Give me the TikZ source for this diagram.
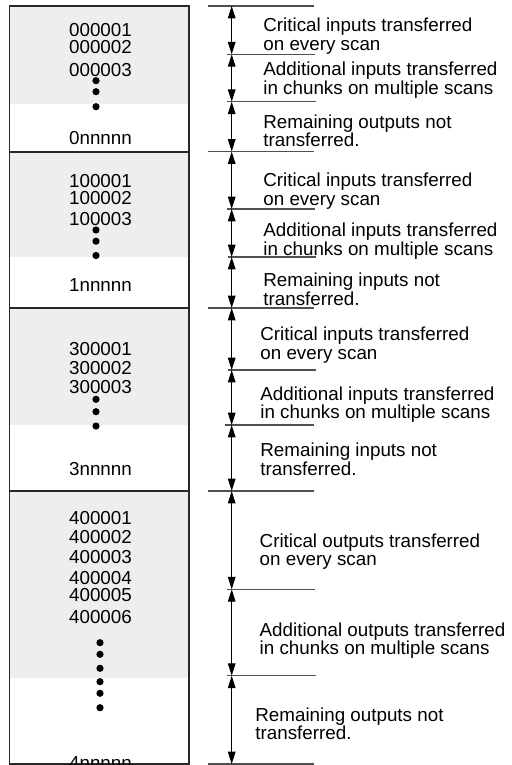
\documentclass[tikz,border=0pt]{standalone}
\usepackage{fontspec}
\setmainfont{Liberation Sans}
\usepackage{tikz}
\usetikzlibrary{arrows.meta}
\definecolor{myframe}{RGB}{40,40,40}
\definecolor{myshade}{RGB}{238,238,238}
\definecolor{mytick}{RGB}{80,80,80}
\tikzset{
  addr/.style={anchor=base, inner sep=0pt,
    font=\fontsize{9.4}{9.2}\selectfont},
  note/.style={anchor=base west, align=left, inner sep=0pt,
    font=\fontsize{9.4}{9.2}\selectfont},
  frame/.style={draw=myframe, line width=0.6pt},
  shade/.style={fill=myshade},
  tickline/.style={color=mytick, line width=0.55pt},
  dimarrow/.style={{Triangle[width=3.8pt,length=6.2pt]}-{Triangle[width=3.8pt,length=6.2pt]},
    line width=0.5pt, color=black},
  listdot/.style={fill=black}
}

\begin{document}
\begin{tikzpicture}[x=0.5pt, y=-0.5pt]
  \useasboundingbox (0,0) rectangle (512,765);

  % Shaded parts of the table
  \fill[shade] (9.3,6) rectangle (189,104);
  \fill[shade] (9.3,152) rectangle (189,257);
  \fill[shade] (9.3,308) rectangle (189,425);
  \fill[shade] (9.3,491) rectangle (189,678);

  % Table sections
  \draw[frame] (9.3,6) rectangle (189,152);
  \draw[frame] (9.3,152) rectangle (189,308);
  \draw[frame] (9.3,308) rectangle (189,491);
  \draw[frame] (9.3,491) rectangle (189,764);

  % Section 0xxxxx
  \node[addr] (a01) at (100.5,36.7) {000001};
  \node[addr] (a02) at (100.5,54) {000002};
  \node[addr] (a03) at (100.5,76) {000003};
  \fill[listdot] (96,80.7) circle (1.8pt) (96,91.7) circle (1.8pt) (96,106.7) circle (1.8pt);
  \node[addr] (a0n) at (100.5,144) {0nnnnn};

  % Section 1xxxxx
  \node[addr] (a11) at (100.5,187.3) {100001};
  \node[addr] (a12) at (100.5,204) {100002};
  \node[addr] (a13) at (100.5,225) {100003};
  \fill[listdot] (96,230) circle (1.8pt) (96,241.2) circle (1.8pt) (96,255.5) circle (1.8pt);
  \node[addr] (a1n) at (100.5,291.7) {1nnnnn};

  % Section 3xxxxx
  \node[addr] (a31) at (100.5,355) {300001};
  \node[addr] (a32) at (100.5,374) {300002};
  \node[addr] (a33) at (100.5,393.3) {300003};
  \fill[listdot] (96,399.3) circle (1.8pt) (96,411.7) circle (1.8pt) (96,426) circle (1.8pt);
  \node[addr] (a3n) at (100.5,475) {3nnnnn};

  % Section 4xxxxx
  \node[addr] (a41) at (100.5,524) {400001};
  \node[addr] (a42) at (100.5,543.3) {400002};
  \node[addr] (a43) at (100.5,563.3) {400003};
  \node[addr] (a44) at (100.5,584.3) {400004};
  \node[addr] (a45) at (100.5,601.7) {400005};
  \node[addr] (a46) at (100.5,623.3) {400006};
  \fill[listdot] (100,642.7) circle (1.8pt) (100,654.3) circle (1.8pt) (100,668.3) circle (1.8pt)
    (100,681.7) circle (1.8pt) (100,693.3) circle (1.8pt) (100,707.7) circle (1.8pt);
  \node[addr] (a4n) at (100.5,769) {4nnnnn};

  % Tick marks for the dimension lines
  \draw[tickline] (208,6) -- (314,6);
  \draw[tickline] (227,54.3) -- (315,54.3);
  \draw[tickline] (227,101.7) -- (316,101.7);
  \draw[tickline] (208,151.5) -- (314,151.5);
  \draw[tickline] (227,209) -- (315,209);
  \draw[tickline] (228,257) -- (316,257);
  \draw[tickline] (208,308) -- (314,308);
  \draw[tickline] (228,370) -- (316,370);
  \draw[tickline] (225,425) -- (314,425);
  \draw[tickline] (208,491) -- (314,491);
  \draw[tickline] (227,589.3) -- (315,589.3);
  \draw[tickline] (227,675.7) -- (316,675.7);
  \draw[tickline] (208,764) -- (314,764);

  % Dimension points
  \coordinate (d0) at (231.7,6);
  \coordinate (d1) at (231.7,54.3);
  \coordinate (d2) at (231.7,101.7);
  \coordinate (d3) at (231.7,151.5);
  \coordinate (d4) at (231.7,209);
  \coordinate (d5) at (231.7,257);
  \coordinate (d6) at (231.7,308);
  \coordinate (d7) at (231.7,370);
  \coordinate (d8) at (231.7,425);
  \coordinate (d9) at (231.7,491);
  \coordinate (d10) at (231.7,589.3);
  \coordinate (d11) at (231.7,675.7);
  \coordinate (d12) at (231.7,764);

  % Dimension arrows
  \draw[dimarrow] (d0) -- (d1);
  \draw[dimarrow] (d1) -- (d2);
  \draw[dimarrow] (d2) -- (d3);
  \draw[dimarrow] (d3) -- (d4);
  \draw[dimarrow] (d4) -- (d5);
  \draw[dimarrow] (d5) -- (d6);
  \draw[dimarrow] (d6) -- (d7);
  \draw[dimarrow] (d7) -- (d8);
  \draw[dimarrow] (d8) -- (d9);
  \draw[dimarrow] (d9) -- (d10);
  \draw[dimarrow] (d10) -- (d11);
  \draw[dimarrow] (d11) -- (d12);

  % Descriptions (base is the last line)
  \node[note] (n01) at (263,50.1) {Critical inputs transferred\\on every scan};
  \node[note] (n02) at (263,94.4) {Additional inputs transferred\\in chunks on multiple scans};
  \node[note] (n03) at (263,146.7) {Remaining outputs not\\transferred.};
  \node[note] (n11) at (263,205.1) {Critical inputs transferred\\on every scan};
  \node[note] (n12) at (263,255.1) {Additional inputs transferred\\in chunks on multiple scans};
  \node[note] (n13) at (263,305.1) {Remaining inputs not\\transferred.};
  \node[note] (n31) at (260,359.1) {Critical inputs transferred\\on every scan};
  \node[note] (n32) at (260,418.4) {Additional inputs transferred\\in chunks on multiple scans};
  \node[note] (n33) at (260,475.1) {Remaining inputs not\\transferred.};
  \node[note] (n41) at (259.3,565.7) {Critical outputs transferred\\on every scan};
  \node[note] (n42) at (259.3,654.4) {Additional outputs transferred\\in chunks on multiple scans};
  \node[note] (n43) at (255,739.4) {Remaining outputs not\\transferred.};
\end{tikzpicture}
\end{document}
